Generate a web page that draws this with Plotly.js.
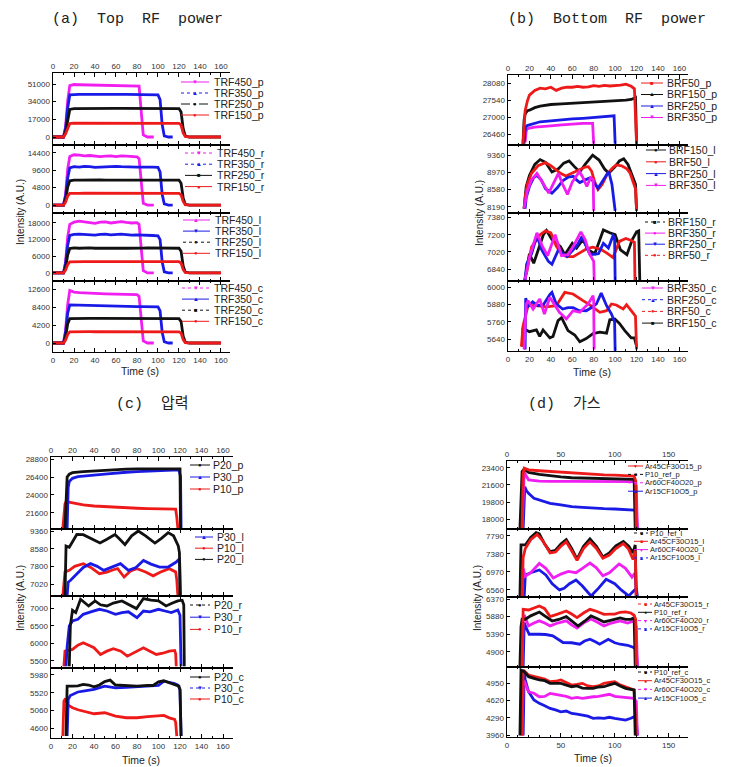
<!DOCTYPE html>
<html><head><meta charset="utf-8">
<script src="https://cdn.plot.ly/plotly-3.0.1.min.js"></script>
<style>body{margin:0;background:#fff}#chart{width:738px;height:767px}</style>
</head><body><div id="chart"></div>
<script>
// ---------- Panel (a) Top RF power ----------
const tTRF450 = [0,5,10,12,14,16,20,25,30,35,40,45,50,55,60,65,70,75,80,82,84,86,90,96];
const tTRF350 = [0,5,10,12,14,16,20,25,30,35,40,45,50,55,60,65,70,75,80,85,90,95,100,102,104,106,110,114];
const tTRF250 = [0,5,10,12,14,16,20,25,30,35,40,45,50,55,60,65,70,75,80,85,90,95,100,105,110,115,120,122,124,126,130,140,150,160];
const tTRF150 = [0,5,10,12,14,16,20,25,30,35,40,45,50,55,60,65,70,75,80,85,90,95,100,105,110,115,120,122,124,126,130,140,150,160];

const TRF450_p = [0,0,0,10000,35000,49500,50500,50300,50200,50100,50000,50000,50000,49900,49900,49800,49800,49700,49600,49000,25000,2000,0,0];
const TRF350_p = [0,0,0,8000,28000,40500,41000,41000,41000,41100,41000,41000,41000,41000,41000,41000,41000,41000,41000,40900,40900,40800,40500,36000,12000,1000,0,0];
const TRF250_p = [0,0,0,5000,18000,26500,27300,27400,27400,27500,27500,27500,27500,27500,27500,27500,27500,27500,27500,27500,27500,27500,27500,27500,27600,27600,27400,24000,8000,1000,0,0,0,0];
const TRF150_p = [0,0,0,3000,9000,13000,13300,13300,13300,13400,13300,13300,13300,13300,13300,13300,13300,13300,13300,13300,13300,13300,13300,13300,13300,13300,13200,11500,4000,500,0,0,0,0];

const TRF450_r = [0,0,0,3000,10000,13400,13900,13800,13600,13700,13500,13400,13500,13600,13400,13600,13500,13400,13300,12800,6000,500,0,0];
const TRF350_r = [0,0,0,2500,7500,10300,10600,10500,10700,10600,10400,10500,10600,10500,10700,10600,10500,10600,10500,10500,10600,10500,10400,9200,3000,300,0,0];
const TRF250_r = [0,0,0,1500,5000,6700,6900,6900,6950,6900,6900,6950,6900,6900,6950,6900,6900,6950,6900,6900,6950,6900,6900,6950,6950,7000,6900,6000,2000,200,0,0,0,0];
const TRF150_r = [0,0,0,800,2500,3200,3300,3250,3300,3300,3250,3300,3300,3300,3250,3300,3300,3300,3250,3300,3300,3300,3300,3300,3300,3300,3250,2800,1000,100,0,0,0,0];

const TRF450_l = [0,0,0,4000,13000,17500,18300,18700,18500,18300,17900,18300,18400,18000,18300,18500,18200,18000,18100,17500,9000,800,0,0];
const TRF350_l = [0,0,0,3500,10000,13500,13900,14000,13900,13800,13600,13900,14000,13700,13800,14000,13800,13600,13700,13700,13600,13500,13400,12000,4000,400,0,0];
const TRF250_l = [0,0,0,2000,6500,8800,9000,8900,9000,9000,8900,8950,9000,8900,9000,8950,8900,9000,9000,8950,9000,9000,9000,9000,9000,9000,8900,7800,2500,300,0,0,0,0];
const TRF150_l = [0,0,0,1000,3000,4000,4100,4050,4100,4100,4050,4100,4100,4100,4050,4100,4100,4100,4050,4100,4100,4100,4100,4100,4100,4100,4050,3600,1200,150,0,0,0,0];

const TRF450_c = [0,0,0,3000,9000,12300,11900,11800,11700,11650,11600,11550,11500,11450,11400,11400,11350,11300,11300,10900,5500,500,0,0];
const TRF350_c = [0,0,0,2500,7000,8900,8870,8800,8750,8700,8700,8650,8650,8600,8600,8600,8550,8550,8500,8500,8500,8450,8450,7500,2500,300,0,0];
const TRF250_c = [0,0,0,1500,4500,5700,5750,5760,5760,5780,5760,5760,5770,5760,5760,5760,5770,5760,5760,5760,5770,5760,5760,5760,5760,5760,5700,5000,1600,200,0,0,0,0];
const TRF150_c = [0,0,0,700,2000,2600,2640,2640,2640,2650,2640,2640,2640,2640,2640,2650,2640,2640,2640,2640,2640,2640,2640,2640,2640,2640,2620,2300,800,100,0,0,0,0];

// ---------- Panel (b) Bottom RF power ----------
const tBRF50_p = [14,15,16,18,20,25,30,35,40,45,50,55,60,65,70,75,80,85,90,95,100,105,110,115,118,119,120];
const BRF50_p = [26150,26700,27200,27500,27700,27850,27920,27900,27950,27850,27920,27950,27950,27980,27950,27960,28000,27980,28010,27990,28000,28020,28050,27980,27900,27000,26150];
const tBRF150_p = [14,15,16,18,20,25,30,40,50,60,70,80,90,100,110,115,119,120];
const BRF150_p = [26150,26900,27100,27200,27220,27300,27350,27400,27420,27440,27450,27460,27500,27520,27540,27560,27620,26150];
const tBRF250_p = [15,16,17,18,20,25,30,40,50,60,70,80,90,95,99,100];
const BRF250_p = [26150,26600,26700,26730,26750,26800,26850,26880,26920,26940,26960,26980,27000,27010,27040,26150];
const tBRF350_p = [16,17,18,20,25,30,40,50,60,70,75,79,80];
const BRF350_p = [26200,26550,26620,26650,26680,26700,26720,26750,26780,26800,26800,26800,26150];

const tBRF150_l = [15,16,17,20,25,30,35,41,47,52,57,62,67,72,79,85,90,94,100,104,108,112,116,119,120];
const BRF150_l = [8150,8450,8650,8900,9150,9260,9200,8980,9050,9180,9230,9100,8980,9150,9360,9250,9050,8950,9100,9230,9280,9150,8900,8700,8100];
const tBRF50_l = [15,16,18,22,28,35,40,45,49,54,60,67,72,75,78,81,84,88,93,98,101,106,111,114,117,119,120];
const BRF50_l = [8150,8400,8700,8950,9120,9190,9120,9020,8950,8890,8960,9050,9090,9100,9000,8750,8580,8700,8950,9080,9140,9120,9050,8950,8760,8600,8100];
const tBRF250_l = [16,17,20,24,27,31,35,41,46,51,56,61,64,67,72,77,84,89,94,97,99,100];
const BRF250_l = [8150,8400,8650,8850,8900,8800,8600,8500,8620,8780,8860,8880,8800,8740,8800,8850,8610,8800,8990,8700,8300,8100];
const tBRF350_l = [15,16,18,22,27,32,38,42,47,51,55.5,60,66.7,70,73.6,77,79.5,80];
const BRF350_l = [8150,8300,8550,8800,8945,8750,8500,8700,8945,8700,8470,8750,8990,8850,8650,8850,8800,8100];

const tBRF150_r = [15.5,16,20,24,28,33,36,41,49,53,60,64,70,75,81,86,89,95,100,105,111,116,120,122,123];
const BRF150_r = [6720,6750,7000,6900,7040,7200,7245,7150,7075,6990,7110,7060,7150,7040,7000,7150,7250,7220,7200,7040,6990,7150,7230,7240,6720];
const tBRF350_r = [16,20,27,32,37,44,50,56,62,68,72,76,80,80.5];
const BRF350_r = [6730,6960,7220,7080,6980,7200,6980,6990,7100,7230,7150,7000,6920,6720];
const tBRF250_r = [16,17.4,22,27,31.5,37.7,41,47,55,64,69,76.6,84.4,89,93.7,98,99.5,100];
const BRF250_r = [6720,6890,7000,7190,7040,6920,6890,7040,6970,7080,7180,6990,7000,7110,7060,7190,7170,6720];
const tBRF50_r = [17,22,30,35,40,45,50,55,61,67,73,79,86,92,98,104,110,115,118,118.5];
const BRF50_r = [6780,7070,7200,7240,7220,7080,7000,6970,6970,7010,7050,7070,7050,7010,6960,7130,7160,7140,7120,6720];

const tBRF350_c = [15,17,18.7,23.4,29.6,34,39,45,48,54.5,60.7,67,74.8,79.4,80,80.4];
const BRF350_c = [5570,5880,5908,5850,5920,5815,5931,5861,5827,5781,5838,5827,5885,5942,5900,5570];
const tBRF250_c = [16,16.5,19,23,28,33,39,41,45,51,56,60.7,66,73,78,82.5,87,92,96.6,98,99.5,100];
const BRF250_c = [5570,5925,5870,5900,5873,5880,5950,5965,5885,5850,5860,5860,5840,5838,5860,5885,5960,5873,5815,5790,5760,5560];
const tBRF50_c = [12.5,14,18.7,26.5,35.8,45,53,60.7,70,76,85.7,92,96.6,101,107.5,110.6,115,118,119,120];
const BRF50_c = [5590,5730,5875,5873,5865,5873,5965,5954,5908,5880,5827,5838,5885,5878,5850,5880,5838,5815,5800,5570];
const tBRF150_c = [13.4,14,17,20,26.5,29.6,32.7,39,42,46.7,50,56,62.3,67,73,79.4,85.7,92,95,99.7,104,109,115,118,120];
const BRF150_c = [5590,5720,5705,5693,5705,5660,5705,5650,5660,5770,5790,5700,5670,5623,5645,5680,5690,5683,5775,5780,5750,5700,5650,5650,5590];

// ---------- Panel (c) pressure ----------
const tP20_p = [13,14,15,17,20,30,40,50,60,70,80,90,100,110,118,120,120.5];
const P20_p = [19500,24000,26400,26800,27000,27150,27250,27350,27450,27480,27500,27520,27530,27550,27560,27500,19500];
const tP30_p = [15,16,17,20,25,30,40,50,60,70,80,90,100,110,119,120.5,121];
const P30_p = [19500,25000,25800,26230,26450,26550,26680,26800,26950,27050,27130,27200,27260,27320,27380,26500,19500];
const tP10_p = [11,12,13,14,16,20,30,40,50,60,70,80,90,100,110,116,117,118];
const P10_p = [19500,21000,22800,23100,23050,22870,22650,22500,22400,22300,22250,22200,22150,22120,22100,22080,21000,19500];

const tP30_l = [15,16,18.2,22.9,30,36.7,43,49,56,64.6,72,79,86,93,101,109,116.5,119.6,120.5];
const P30_l = [6500,7100,7183,7403,7750,7919,7800,7624,7750,7919,7624,7750,8064,7900,7770,7770,7990,8140,6500];
const tP10_l = [11,12,13,17,22,30,37,45,52,58,62,68,74,80,88,95,102,110,116,117,118];
const P10_l = [6500,7300,7549,7624,7800,7919,7750,7478,7549,7650,7698,7330,7600,7698,7549,7380,7550,7698,7549,7200,6500];
const tP20_l = [13,14,17,20,24,30,37,45.6,52,59.5,64,68.8,75,81.2,88,96.7,103,109,114,118.4,119.5,120];
const P20_l = [6500,8700,8640,8900,9210,9200,9050,8830,9000,9210,9000,8760,9150,9360,9150,8830,9050,9290,9150,8700,8400,6500];

const tP20_r = [17,18,20,23,27.5,35,41,46,52,58,66,73,79.5,86,93,100,107,113,118,122,123.5,124];
const P20_r = [5350,6500,6943,6877,7257,7066,7209,7100,7066,7150,7209,7100,6991,7277,7230,7209,7066,7150,7209,7230,7100,5350];
const tP30_r = [14,15,17,20,25,30,37,45,52,60,66,72,80,86,92,100,106,112,118,120,121];
const P30_r = [5350,5900,6494,6637,6686,6829,6900,6971,6923,6829,6877,6900,6734,6923,6900,6971,6923,6877,6950,6800,5350];
const tP10_r = [12,12.5,13,20,25,30,35,40,46,52,58,65,71,78,86,92,98,104,110,115,116,116.5];
const P10_r = [5350,5494,5780,5829,5950,6020,5950,5877,5686,5780,5849,5780,5637,5760,5877,5780,5686,5720,5780,5800,5700,5350];

const tP20_c = [14,15,20,25,30,35,40,45,50,55,60,70,80,90,95,100,105,110,115,119,120,121];
const P20_c = [4400,5690,5690,5700,5735,5720,5675,5720,5810,5846,5720,5700,5690,5710,5708,5800,5830,5778,5720,5690,5600,4400];
const tP30_c = [15,16,18,20,25,30,40,50,60,70,80,90,100,105,110,115,118,120,121];
const P30_c = [4400,5347,5450,5476,5540,5561,5605,5690,5648,5660,5675,5690,5708,5820,5790,5760,5720,5600,4400];
const tP10_c = [11,12,13,14,16,20,25,30,40,50,60,70,80,90,95,100,105,110,115,116,117];
const P10_c = [4400,5303,5347,5340,5200,5132,5080,5045,4977,5003,4916,4874,4874,4900,4916,4930,4933,4870,4830,4750,4400];

// ---------- Panel (d) gas ----------
const tAr45_p = [14,15,16,20,30,40,50,60,70,80,90,100,110,118,119.5,120];
const Ar45CF30O15_p = [17000,22800,23350,23170,23080,23000,22920,22830,22770,22700,22650,22620,22580,22530,22000,17000];
const tP10ref_p = [12,13,14,16,20,30,40,50,60,70,80,90,100,110,118,119];
const P10_ref_p = [17000,21000,23000,23260,22900,22700,22530,22430,22350,22320,22280,22230,22180,22180,22180,17000];
const tAr60_p = [14,15,16,18,20,30,40,60,80,100,118,120,121];
const Ar60CF40O20_p = [17000,21500,23000,22500,22130,22000,21960,21960,21960,21960,21950,21500,17000];
const tAr15_p = [15,16,16.5,18,20,25,30,40,50,60,70,80,90,100,110,118,120,121];
const Ar15CF10O5_p = [17000,20000,21410,21000,20720,20200,20020,19670,19500,19320,19250,19150,19120,19080,19020,18970,18800,17000];

const tP10ref_l = [12,13,17,22,27,30,35,40,45,50,55,60,65,71,77,83,89,95,101,108,113,117,119,120];
const P10_ref_l = [6420,7580,7580,7750,7860,7830,7600,7430,7460,7600,7700,7500,7260,7550,7720,7550,7310,7400,7560,7660,7550,7400,7580,6420];
const tAr45_l = [14,15,17,22,28,33,40,45,50,55,60,65,71,77,83,89,95,101,108,113,117,119,120];
const Ar45CF30O15_l = [6420,7300,7500,7700,7820,7680,7400,7420,7550,7650,7450,7230,7500,7650,7500,7280,7350,7500,7610,7480,7250,7450,6420];
const tAr60_l = [14,15,17,22,30,36,43,50,57,64,70,77,83,89,95,104,110,116,119,120];
const Ar60CF40O20_l = [6420,7050,6870,6950,7160,7050,6830,6920,6980,6950,7050,7170,7060,6880,6950,7150,7050,6850,6950,6420];
const tAr15_l = [16,17,22,30,36,42,48.7,53,58,64,70,78,85,92,100,106,113,118,120,121];
const Ar15CF10O5_l = [6420,6900,6950,7013,6900,6700,6560,6598,6700,6787,6650,6424,6600,6802,6700,6560,6424,6560,6600,6420];

const tAr45_r = [14,15,20,25,30,35,40,47,55,60,65,71,77,83,90,95,100,105,110,115,118,119.5,120];
const Ar45CF30O15_r = [4500,6083,6064,6120,6175,6100,5880,5950,6036,5950,5852,5980,6083,6030,5944,5950,5950,6000,6010,5980,5917,5800,4500];
const tP10ref_r = [12,13,14,17,22,30,36,42,48,55,60,66,72,78,84,90,97,105,110,115,118,119];
const P10_ref_r = [4500,5600,5805,5805,5900,6008,5880,5757,5800,5880,5760,5618,5750,5900,5820,5730,5780,5840,5800,5805,5850,4500];
const tAr60_r = [14,15,16,20,25,30,35,40,47,55,60,65,71,78,84,90,97,105,112,118,120,121];
const Ar60CF40O20_r = [4500,5800,5925,5620,5700,5760,5700,5620,5700,5760,5650,5560,5700,5810,5720,5620,5700,5760,5700,5760,5600,4500];
const tAr15_r = [15,16,17,20.6,30,36,42.5,52,60,67.5,72,77,82,86,94,100,105,112,117.5,120,121];
const Ar15CF10O5_r = [4500,5713,5620,5387,5387,5380,5340,5156,5150,5109,5200,5248,5180,5109,5248,5150,5109,5080,5017,4950,4500];

const tP10ref_c = [12,13,16,20,25,30,35,40,50,55,60,65,70,75,80,85,90,95,100,105,110,118,119];
const P10_ref_c = [3950,5205,5173,5077,5046,5014,5000,4950,4950,4920,4885,4900,4860,4854,4854,4880,4885,4920,4950,4900,4854,4822,3950];
const tAr45_c = [14,15,20,25,30,35,40,45,50,55,60,65,70,75,80,85,90,95,100,105,110,115,118,120];
const Ar45CF30O15_c = [3950,5205,5110,5080,5046,5030,4981,4990,5014,4960,4917,4930,4950,4900,4885,4900,4950,4970,4981,4920,4885,4840,4822,3950];
const tAr60_c = [14,15,16,20,25,30,35,40,45,50,55,60,65,70,75,80,85,90,95,100,105,110,118,120,121];
const Ar60CF40O20_c = [3950,4950,5000,4789,4760,4693,4700,4758,4740,4726,4700,4662,4680,4662,4680,4693,4700,4720,4740,4700,4693,4680,4662,4600,3950];
const tAr15_c = [15,16,17,20,25,30,35,40,45,50,55,60,65,70,75,80,85,90,95,100,105,110,115,118,120,121];
const Ar15CF10O5_c = [3950,5142,5014,4789,4630,4566,4520,4470,4440,4405,4420,4374,4360,4342,4320,4278,4290,4278,4300,4278,4260,4246,4280,4310,4250,3950];

// ---------- axis ticks ----------
const yt_a1=[0,17000,34000,51000], yt_a2=[0,4800,9600,14400], yt_a3=[0,6000,12000,18000], yt_a4=[0,4200,8400,12600];
const yt_b1=[26460,27000,27540,28080], yt_b2=[8190,8580,8970,9360], yt_b3=[6840,7020,7200,7380], yt_b4=[5640,5760,5880,6000];
const yt_c1=[21600,24000,26400,28800], yt_c2=[7020,7800,8580,9360], yt_c3=[5500,6000,6500,7000], yt_c4=[4600,5060,5520,5980];
const yt_d1=[18000,19800,21600,23400], yt_d2=[6560,6970,7380,7790], yt_d3=[4900,5390,5880,6370], yt_d4=[3960,4290,4620,4950];

// ---------- styling / layout ----------
const W=738,H=767;
const px=x=>x/W, py=y=>1-y/H;
const MAG='#f01ef0', BLU='#1a1ae6', BLK='#111111', RED='#ee1a1a';
const SANS='"Liberation Sans", Arial, sans-serif';
const SYM={dn:'\u25BC',up:'\u25B2',ci:'\u25CF',sq:'\u25A0'};

const panels=[
 {xd:[53,230], xr:[0,168.6], dt:20, rows:[[73,145],[145,213],[213,281],[281,352]]},
 {xd:[508,688], xr:[0,168], dt:20, rows:[[75,145],[145,213],[213,281],[281,351]]},
 {xd:[51,233], xr:[0,169.3], dt:20, rows:[[457,529],[529,596],[596,668],[668,738]]},
 {xd:[507,688], xr:[0,168], dt:50, rows:[[461,529],[529,597],[597,667],[667,737]]}
];

const subs=[
 {yr:[-7700,61600], yt:yt_a1, s:[[tTRF450,TRF450_p,MAG],[tTRF350,TRF350_p,BLU],[tTRF250,TRF250_p,BLK],[tTRF150,TRF150_p,RED]],
  lg:{x:213,y0:82,dy:11,l:[181,209],fs:10.5,it:[['TRF450_p',MAG,'solid','dn'],['TRF350_p',BLU,'dot','up'],['TRF250_p',BLK,'dashdot','ci'],['TRF150_p',RED,'solid','ci']]}},
 {yr:[-2200,16600], yt:yt_a2, s:[[tTRF450,TRF450_r,MAG],[tTRF350,TRF350_r,BLU],[tTRF250,TRF250_r,BLK],[tTRF150,TRF150_r,RED]],
  lg:{x:216,y0:153,dy:11.2,l:[185,212],fs:10.5,it:[['TRF450_r',MAG,'dot','dn'],['TRF350_r',BLU,'dot','up'],['TRF250_r',BLK,'solid','sq'],['TRF150_r',RED,'solid','ci']]}},
 {yr:[-2900,21600], yt:yt_a3, s:[[tTRF450,TRF450_l,MAG],[tTRF350,TRF350_l,BLU],[tTRF250,TRF250_l,BLK],[tTRF150,TRF150_l,RED]],
  lg:{x:214,y0:220,dy:11.1,l:[183,210],fs:10.5,it:[['TRF450_l',MAG,'solid','up'],['TRF350_l',BLU,'solid','dn'],['TRF250_l',BLK,'dot','ci'],['TRF150_l',RED,'solid','ci']]}},
 {yr:[-2100,14500], yt:yt_a4, s:[[tTRF450,TRF450_c,MAG],[tTRF350,TRF350_c,BLU],[tTRF250,TRF250_c,BLK],[tTRF150,TRF150_c,RED]],
  lg:{x:213,y0:288,dy:11.1,l:[182,209],fs:10.5,it:[['TRF450_c',MAG,'dot','dn'],['TRF350_c',BLU,'solid','up'],['TRF250_c',BLK,'dot','sq'],['TRF150_c',RED,'solid','ci']]}},

 {yr:[26110,28340], yt:yt_b1, s:[[tBRF350_p,BRF350_p,MAG],[tBRF250_p,BRF250_p,BLU],[tBRF150_p,BRF150_p,BLK],[tBRF50_p,BRF50_p,RED]],
  lg:{x:666,y0:83,dy:11.5,l:[641,663],fs:10.5,it:[['BRF50_p',RED,'solid','sq'],['BRF150_p',BLK,'solid','up'],['BRF250_p',BLU,'solid','up'],['BRF350_p',MAG,'solid','dn']]}},
 {yr:[8050,9590], yt:yt_b2, s:[[tBRF150_l,BRF150_l,BLK],[tBRF50_l,BRF50_l,RED],[tBRF250_l,BRF250_l,BLU],[tBRF350_l,BRF350_l,MAG]],
  lg:{x:668,y0:150,dy:11.8,l:[646,666],fs:10.5,it:[['BRF150_l',BLK,'solid','ci'],['BRF50_l',RED,'solid','ci'],['BRF250_l',BLU,'solid','up'],['BRF350_l',MAG,'solid','dn']]}},
 {yr:[6714,7428], yt:yt_b3, s:[[tBRF150_r,BRF150_r,BLK],[tBRF50_r,BRF50_r,RED],[tBRF250_r,BRF250_r,BLU],[tBRF350_r,BRF350_r,MAG]],
  lg:{x:667,y0:222,dy:11.1,l:[645,665],fs:10.5,it:[['BRF150_r',BLK,'dot','sq'],['BRF350_r',MAG,'solid','ci'],['BRF250_r',BLU,'solid','dn'],['BRF50_r',RED,'dot','ci']]}},
 {yr:[5559,6044], yt:yt_b4, s:[[tBRF150_c,BRF150_c,BLK],[tBRF50_c,BRF50_c,RED],[tBRF250_c,BRF250_c,BLU],[tBRF350_c,BRF350_c,MAG]],
  lg:{x:666,y0:288,dy:11.7,l:[642,663],fs:10.5,it:[['BRF350_c',MAG,'solid','dn'],['BRF250_c',BLU,'dot','up'],['BRF50_c',RED,'dot','ci'],['BRF150_c',BLK,'solid','sq']]}},

 {yr:[19400,29110], yt:yt_c1, s:[[tP10_p,P10_p,RED],[tP30_p,P30_p,BLU],[tP20_p,P20_p,BLK]],
  lg:{x:212,y0:465,dy:12,l:[190,210],fs:10.5,it:[['P20_p',BLK,'solid','ci'],['P30_p',BLU,'solid','up'],['P10_p',RED,'solid','ci']]}},
 {yr:[6490,9450], yt:yt_c2, s:[[tP10_l,P10_l,RED],[tP30_l,P30_l,BLU],[tP20_l,P20_l,BLK]],
  lg:{x:216,y0:537,dy:11.2,l:[195,213],fs:10.5,it:[['P30_l',BLU,'solid','up'],['P10_l',RED,'solid','ci'],['P20_l',BLK,'solid','ci']]}},
 {yr:[5300,7350], yt:yt_c3, s:[[tP10_r,P10_r,RED],[tP30_r,P30_r,BLU],[tP20_r,P20_r,BLK]],
  lg:{x:213,y0:605,dy:12.2,l:[190,210],fs:10.5,it:[['P20_r',BLK,'dot','ci'],['P30_r',BLU,'solid','dn'],['P10_r',RED,'dash','ci']]}},
 {yr:[4350,6160], yt:yt_c4, s:[[tP10_c,P10_c,RED],[tP30_c,P30_c,BLU],[tP20_c,P20_c,BLK]],
  lg:{x:213,y0:677,dy:11,l:[190,210],fs:10.5,it:[['P20_c',BLK,'solid','ci'],['P30_c',BLU,'dot','dn'],['P10_c',RED,'solid','ci']]}},

 {yr:[16990,24100], yt:yt_d1, s:[[tAr15_p,Ar15CF10O5_p,BLU],[tAr60_p,Ar60CF40O20_p,MAG],[tP10ref_p,P10_ref_p,BLK],[tAr45_p,Ar45CF30O15_p,RED]],
  lg:{x:644,y0:466,dy:8.4,l:[628,643],fs:7.5,it:[['Ar45CF30O15_p',RED,'solid','dn'],['P10_ref_p',BLK,'dot','sq'],['Ar60CF40O20_p',MAG,'dot','ci'],['Ar15CF10O5_p',BLU,'solid','up']]}},
 {yr:[6400,7942], yt:yt_d2, s:[[tAr15_l,Ar15CF10O5_l,BLU],[tAr60_l,Ar60CF40O20_l,MAG],[tP10ref_l,P10_ref_l,BLK],[tAr45_l,Ar45CF30O15_l,RED]],
  lg:{x:649,y0:533,dy:8.3,l:[634,648],fs:7.5,it:[['P10_ref_l',BLK,'dot','sq'],['Ar45CF30O15_l',RED,'solid','sq'],['Ar60CF40O20_l',MAG,'solid','dn'],['Ar15CF10O5_l',BLU,'dot','up']]}},
 {yr:[4474,6426], yt:yt_d3, s:[[tAr15_r,Ar15CF10O5_r,BLU],[tAr60_r,Ar60CF40O20_r,MAG],[tP10ref_r,P10_ref_r,BLK],[tAr45_r,Ar45CF30O15_r,RED]],
  lg:{x:653,y0:604,dy:8.3,l:[638,652],fs:7.5,it:[['Ar45CF30O15_r',RED,'dot','sq'],['P10_ref_r',BLK,'solid','ci'],['Ar60CF40O20_r',MAG,'dot','dn'],['Ar15CF10O5_r',BLU,'dot','up']]}},
 {yr:[3922,5263], yt:yt_d4, s:[[tAr15_c,Ar15CF10O5_c,BLU],[tAr60_c,Ar60CF40O20_c,MAG],[tAr45_c,Ar45CF30O15_c,RED],[tP10ref_c,P10_ref_c,BLK]],
  lg:{x:653,y0:672,dy:8.7,l:[638,652],fs:7.5,it:[['P10_ref_c',BLK,'dot','sq'],['Ar45CF30O15_c',RED,'solid','ci'],['Ar60CF40O20_c',MAG,'dot','dn'],['Ar15CF10O5_c',BLU,'solid','up']]}}
];

const traces=[], shapes=[], annotations=[];
const layout={width:W,height:H,margin:{l:0,r:0,t:0,b:0},paper_bgcolor:'#fff',plot_bgcolor:'#fff',showlegend:false,font:{family:SANS,color:'#222'}};

subs.forEach((sp,i)=>{
  const p=panels[Math.floor(i/4)], r=i%4, k=i+1, suf=(k===1?'':String(k));
  const [top,bot]=p.rows[r];
  layout['xaxis'+suf]={domain:[px(p.xd[0]),px(p.xd[1])],range:p.xr,anchor:'y'+suf,
    showline:true,linecolor:'#000',linewidth:1,mirror:'ticks',ticks:'inside',ticklen:4,tickwidth:1,tickcolor:'#000',
    tick0:0,dtick:p.dt,showgrid:false,zeroline:false,showticklabels:(r===0||r===3),side:(r===0?'top':'bottom'),
    tickfont:{size:8,color:'#333',family:SANS},
    minor:{ticks:'inside',ticklen:2,dtick:10,tickcolor:'#000',showgrid:false}};
  layout['yaxis'+suf]={domain:[py(bot),py(top)],range:sp.yr,anchor:'x'+suf,
    showline:true,linecolor:'#000',linewidth:1.5,ticks:'inside',ticklen:3,tickcolor:'#000',
    tickvals:sp.yt,ticktext:sp.yt.map(String),showgrid:false,zeroline:false,
    tickfont:{size:8,color:'#333',family:SANS}};
  sp.s.forEach(se=>{
    traces.push({type:'scatter',mode:'lines',x:se[0],y:se[1],xaxis:'x'+suf,yaxis:'y'+suf,
      line:{color:se[2],width:2.8},hoverinfo:'skip'});
  });
  const lg=sp.lg;
  lg.it.forEach((it,j)=>{
    const y=lg.y0+j*lg.dy;
    shapes.push({type:'line',xref:'paper',yref:'paper',x0:px(lg.l[0]),x1:px(lg.l[1]),y0:py(y),y1:py(y),
      line:{color:it[1],width:1,dash:it[2]}});
    annotations.push({xref:'paper',yref:'paper',x:px((lg.l[0]+lg.l[1])/2),y:py(y),text:SYM[it[3]],showarrow:false,
      xanchor:'center',yanchor:'middle',borderpad:0,font:{size:(lg.fs>9?6:5),color:it[1]}});
    annotations.push({xref:'paper',yref:'paper',x:px(lg.x),y:py(y),text:it[0],showarrow:false,
      xanchor:'left',yanchor:'middle',borderpad:0,font:{size:lg.fs,color:'#222',family:SANS}});
  });
});

const TFONT={family:'"Liberation Mono","Noto Sans CJK KR",monospace',size:15,color:'#222'};
[['(a)  Top  RF  power',137,20],['(b)  Bottom  RF  power',607,20],['(c)  압력',152,404],['(d)  가스',564,404]].forEach(t=>{
  annotations.push({xref:'paper',yref:'paper',x:px(t[1]),y:py(t[2]),text:t[0],showarrow:false,xanchor:'center',yanchor:'middle',font:TFONT});
});
[[20,212],[479,213],[20,598],[477,598]].forEach(c=>{
  annotations.push({xref:'paper',yref:'paper',x:px(c[0]),y:py(c[1]),text:'Intensity (A.U.)',textangle:-90,showarrow:false,
    xanchor:'center',yanchor:'middle',font:{size:10,color:'#222',family:SANS}});
});
[[140,371],[592,372],[141,760],[593,758]].forEach(c=>{
  annotations.push({xref:'paper',yref:'paper',x:px(c[0]),y:py(c[1]),text:'Time (s)',showarrow:false,
    xanchor:'center',yanchor:'middle',font:{size:10.5,color:'#222',family:SANS}});
});

layout.shapes=shapes; layout.annotations=annotations;
Plotly.newPlot('chart',traces,layout,{displayModeBar:false,staticPlot:true});
</script></body></html>
